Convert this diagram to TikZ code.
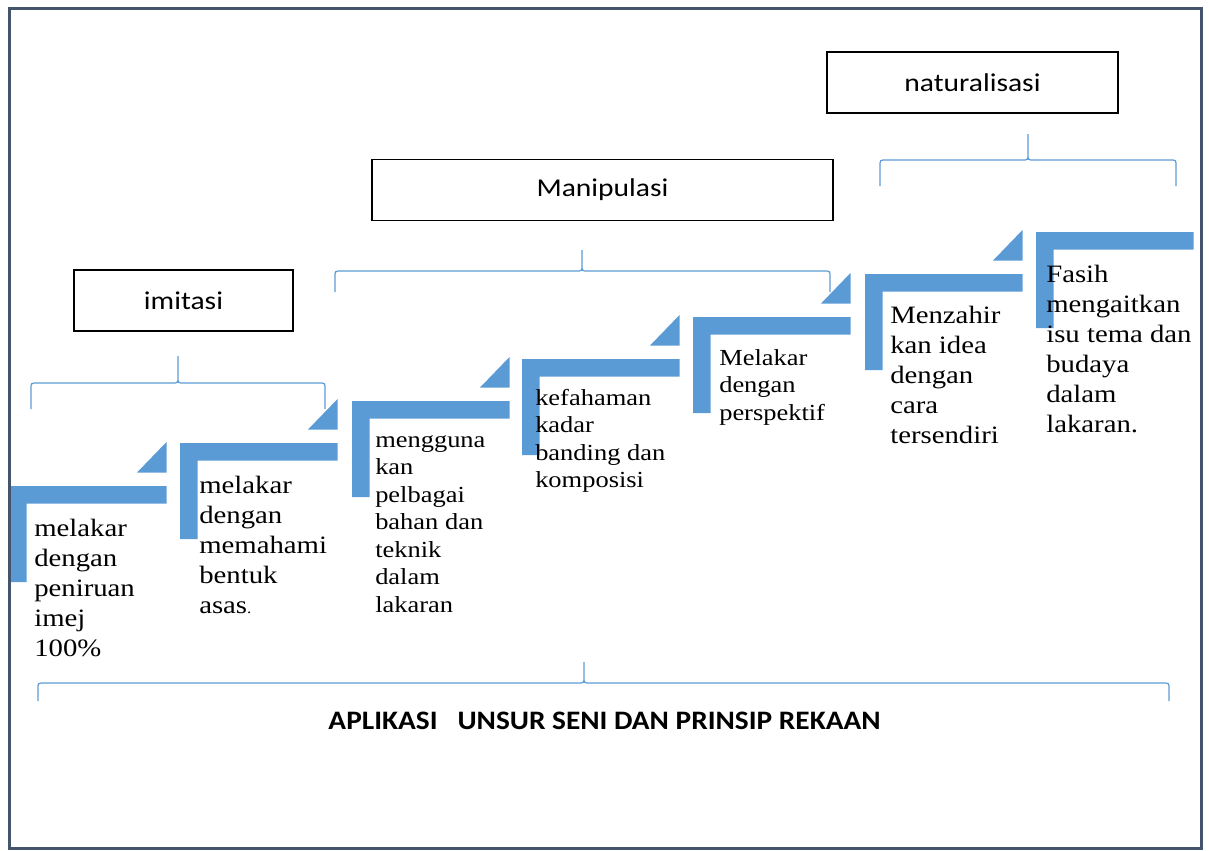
\documentclass[tikz,border=0pt]{standalone}
\usepackage{fontspec}
\setmainfont{Liberation Serif}[FakeStretch=1.15]
\newfontfamily\boxfont{Carlito}[FakeStretch=1.15]
\newfontfamily\titlefont{Carlito}[FakeStretch=1.1]

\definecolor{stepblue}{RGB}{91,155,213}
\definecolor{framegray}{RGB}{68,84,106}

\tikzset{
  bigtext/.style={anchor=north west,inner sep=0pt,align=left,
    font=\fontsize{18.75pt}{22.5pt}\selectfont},
  smalltext/.style={anchor=north west,inner sep=0pt,align=left,
    font=\fontsize{17.25pt}{20.6pt}\selectfont},
  stagebox/.style={draw,line width=1pt,inner sep=0pt,minimum height=45.75pt,
    font=\boxfont\fontsize{19.25pt}{23pt}\selectfont},
  bracket/.style={draw=stepblue,line width=0.9pt},
}

\begin{document}
\begin{tikzpicture}[x=0.75pt,y=-0.75pt]
   \useasboundingbox (0,0) rectangle (1209,850);
   % steps: bar, post and corner triangle
   \fill[stepblue] (9,486) -- ++(157.5,0) -- ++(0,17.5) -- ++(-140,0) -- ++(0,78.5) -- ++(-17.5,0) -- cycle;
   \fill[stepblue] (137,472.5) -- ++(29.5,0) -- ++(0,-30.5) -- cycle;
   \fill[stepblue] (180,443) -- ++(157.5,0) -- ++(0,17.5) -- ++(-140,0) -- ++(0,78.5) -- ++(-17.5,0) -- cycle;
   \fill[stepblue] (308,429.5) -- ++(29.5,0) -- ++(0,-30.5) -- cycle;
   \fill[stepblue] (352,401) -- ++(157.5,0) -- ++(0,17.5) -- ++(-140,0) -- ++(0,78.5) -- ++(-17.5,0) -- cycle;
   \fill[stepblue] (480,387.5) -- ++(29.5,0) -- ++(0,-30.5) -- cycle;
   \fill[stepblue] (522,359) -- ++(157.5,0) -- ++(0,17.5) -- ++(-140,0) -- ++(0,78.5) -- ++(-17.5,0) -- cycle;
   \fill[stepblue] (650,345.5) -- ++(29.5,0) -- ++(0,-30.5) -- cycle;
   \fill[stepblue] (693,317) -- ++(157.5,0) -- ++(0,17.5) -- ++(-140,0) -- ++(0,78.5) -- ++(-17.5,0) -- cycle;
   \fill[stepblue] (821,303.5) -- ++(29.5,0) -- ++(0,-30.5) -- cycle;
   \fill[stepblue] (865,274) -- ++(157.5,0) -- ++(0,17.5) -- ++(-140,0) -- ++(0,78.5) -- ++(-17.5,0) -- cycle;
   \fill[stepblue] (993,260.5) -- ++(29.5,0) -- ++(0,-30.5) -- cycle;
   \fill[stepblue] (1036,232) -- ++(157.5,0) -- ++(0,17.5) -- ++(-140,0) -- ++(0,78.5) -- ++(-17.5,0) -- cycle;
   % step texts
   \node[bigtext] (s1) at (34,515) {\strut melakar\\dengan\\peniruan\\imej\\100\%};
   \node[bigtext] (s2) at (199,472) {\strut melakar\\dengan\\memahami\\bentuk\\asas{\fontsize{11pt}{11pt}\selectfont.}};
   \node[smalltext] (s3) at (375,428) {\strut mengguna\\kan\\pelbagai\\bahan dan\\teknik\\dalam\\lakaran};
   \node[smalltext] (s4) at (535,386) {\strut kefahaman\\kadar\\banding dan\\komposisi};
   \node[smalltext] (s5) at (719,346) {\strut Melakar\\dengan\\perspektif};
   \node[bigtext] (s6) at (890,302) {\strut Menzahir\\kan idea\\dengan\\cara\\tersendiri};
   \node[bigtext] (s7) at (1046,261) {\strut Fasih\\mengaitkan\\isu tema dan\\budaya\\dalam\\lakaran.};
   % stage names
   \node[stagebox,minimum width=164.25pt] (imitasi) at (183.5,300.5) {imitasi};
   \node[stagebox,minimum width=345.75pt] (manipulasi) at (602.5,190) {Manipulasi};
   \node[stagebox,minimum width=218.25pt] (naturalisasi) at (972.5,82.5) {naturalisasi};
   % braces
   \draw[bracket] (31,409) -- (31,389) .. controls (31,383) .. (37,383) -- (172,383) .. controls (178,383) .. (178,377) -- (178,356)
      (178,377) .. controls (178,383) .. (184,383) -- (319,383) .. controls (325,383) .. (325,389) -- (325,409);
   \draw[bracket] (335,292) -- (335,277) .. controls (335,271) .. (341,271) -- (576,271) .. controls (582,271) .. (582,265) -- (582,250)
      (582,265) .. controls (582,271) .. (588,271) -- (824,271) .. controls (830,271) .. (830,277) -- (830,292);
   \draw[bracket] (880,186) -- (880,166) .. controls (880,160) .. (886,160) -- (1022,160) .. controls (1028,160) .. (1028,154) -- (1028,134)
      (1028,154) .. controls (1028,160) .. (1034,160) -- (1170,160) .. controls (1176,160) .. (1176,166) -- (1176,186);
   \draw[bracket] (38,701) -- (38,689) .. controls (38,683) .. (44,683) -- (578,683) .. controls (584,683) .. (584,677) -- (584,662)
      (584,677) .. controls (584,683) .. (590,683) -- (1163,683) .. controls (1169,683) .. (1169,689) -- (1169,701);
   \node[font=\titlefont\bfseries\fontsize{20pt}{24pt}\selectfont] (title) at (604.5,721) {APLIKASI\ \ \ UNSUR SENI DAN PRINSIP REKAAN};
   % frame
   \draw[framegray,line width=2.5pt] (9.5,8.5) rectangle (1201.5,848.5);
\end{tikzpicture}
\end{document}
